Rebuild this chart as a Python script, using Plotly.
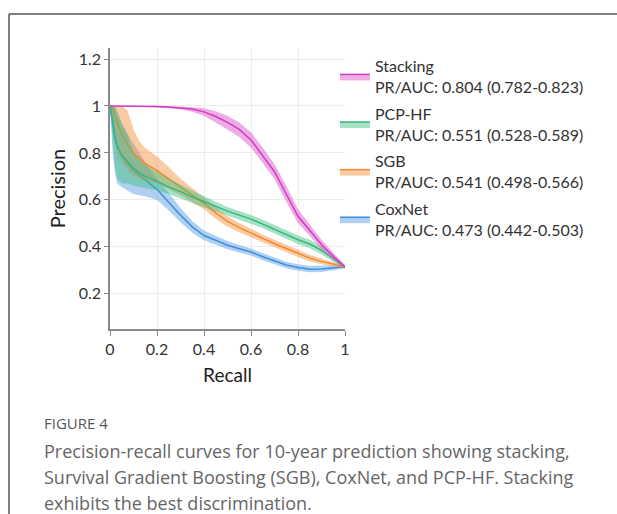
import plotly.graph_objects as go

recall = [0, 0.01, 0.02, 0.03, 0.05, 0.075, 0.1, 0.125, 0.15, 0.2, 0.25, 0.3, 0.35,
          0.4, 0.45, 0.5, 0.55, 0.6, 0.65, 0.7, 0.75, 0.8, 0.85, 0.9, 0.95, 1.0]

stacking_mid = [1.0, 1.0, 1.0, 1.0, 1.0, 1.0, 1.0, 1.0, 0.999, 0.998, 0.996, 0.993, 0.987,
                0.975, 0.955, 0.93, 0.9, 0.855, 0.79, 0.72, 0.625, 0.53, 0.47, 0.41, 0.36, 0.315]
stacking_hi = [1, 1, 1, 1, 1, 1, 1, 1, 1, 1, 1, 0.998, 0.995,
               0.99, 0.978, 0.958, 0.93, 0.888, 0.822, 0.752, 0.66, 0.56, 0.495, 0.43, 0.375, 0.322]
stacking_lo = [1, 1, 1, 1, 1, 0.999, 0.998, 0.997, 0.996, 0.994, 0.99, 0.985, 0.975,
               0.958, 0.93, 0.9, 0.868, 0.822, 0.757, 0.688, 0.592, 0.502, 0.446, 0.39, 0.345, 0.308]

pcphf_mid = [1.0, 0.95, 0.88, 0.83, 0.79, 0.76, 0.735, 0.715, 0.7, 0.68, 0.655, 0.635, 0.612,
             0.593, 0.572, 0.552, 0.535, 0.518, 0.497, 0.475, 0.451, 0.43, 0.412, 0.385, 0.35, 0.315]
pcphf_hi = [1, 1, 1, 0.98, 0.93, 0.88, 0.8, 0.77, 0.75, 0.72, 0.69, 0.665, 0.64,
            0.618, 0.592, 0.57, 0.553, 0.536, 0.515, 0.493, 0.469, 0.448, 0.43, 0.402, 0.365, 0.322]
pcphf_lo = [1, 0.86, 0.75, 0.69, 0.67, 0.67, 0.66, 0.655, 0.65, 0.64, 0.625, 0.605, 0.585,
            0.568, 0.552, 0.534, 0.517, 0.5, 0.479, 0.457, 0.433, 0.412, 0.394, 0.368, 0.336, 0.308]

sgb_mid = [1.0, 0.99, 0.96, 0.93, 0.88, 0.835, 0.8, 0.775, 0.755, 0.725, 0.69, 0.655, 0.62,
           0.585, 0.545, 0.508, 0.482, 0.458, 0.435, 0.413, 0.393, 0.372, 0.352, 0.338, 0.325, 0.315]
sgb_hi = [1, 1, 1, 1, 1, 0.98, 0.9, 0.85, 0.82, 0.785, 0.74, 0.69, 0.65,
          0.612, 0.57, 0.53, 0.502, 0.476, 0.452, 0.43, 0.409, 0.387, 0.366, 0.35, 0.334, 0.322]
sgb_lo = [1, 0.93, 0.86, 0.8, 0.76, 0.73, 0.7, 0.69, 0.68, 0.67, 0.645, 0.62, 0.59,
          0.56, 0.52, 0.486, 0.462, 0.44, 0.418, 0.397, 0.377, 0.357, 0.338, 0.326, 0.316, 0.308]

coxnet_mid = [1.0, 0.93, 0.87, 0.83, 0.79, 0.755, 0.725, 0.705, 0.685, 0.645, 0.59, 0.535, 0.485,
              0.448, 0.428, 0.407, 0.392, 0.378, 0.358, 0.34, 0.323, 0.312, 0.305, 0.306, 0.311, 0.315]
coxnet_hi = [1, 1, 1, 0.97, 0.92, 0.88, 0.84, 0.8, 0.76, 0.69, 0.63, 0.565, 0.51,
             0.47, 0.447, 0.425, 0.408, 0.393, 0.373, 0.355, 0.337, 0.326, 0.319, 0.32, 0.322, 0.322]
coxnet_lo = [1, 0.82, 0.72, 0.67, 0.655, 0.64, 0.625, 0.62, 0.615, 0.6, 0.555, 0.505, 0.46,
             0.428, 0.41, 0.39, 0.376, 0.363, 0.343, 0.325, 0.309, 0.298, 0.292, 0.293, 0.3, 0.308]

model_names = ["CoxNet", "SGB", "PCP-HF", "Stacking"]
model_labels = ["PR/AUC: 0.473 (0.442-0.503)", "PR/AUC: 0.541 (0.498-0.566)",
                "PR/AUC: 0.551 (0.528-0.589)", "PR/AUC: 0.804 (0.782-0.823)"]
legend_ranks = [4, 3, 2, 1]
line_colors = ["#3d8fe0", "#f5892a", "#35b878", "#d23bc4"]
band_colors = ["rgba(80,150,225,0.45)", "rgba(245,140,50,0.45)",
               "rgba(60,190,130,0.45)", "rgba(220,90,205,0.5)"]
mids = [coxnet_mid, sgb_mid, pcphf_mid, stacking_mid]
his = [coxnet_hi, sgb_hi, pcphf_hi, stacking_hi]
los = [coxnet_lo, sgb_lo, pcphf_lo, stacking_lo]

x_ticks = [0, 0.2, 0.4, 0.6, 0.8, 1]
x_tick_text = ["0", "0.2", "0.4", "0.6", "0.8", "1"]
y_ticks = [0.2, 0.4, 0.6, 0.8, 1, 1.2]
y_tick_text = ["0.2", "0.4", "0.6", "0.8", "1", "1.2"]

caption_head = "FIGURE 4"
caption_lines = [
    "Precision-recall curves for 10-year prediction showing stacking,",
    "Survival Gradient Boosting (SGB), CoxNet, and PCP-HF. Stacking",
    "exhibits the best discrimination.",
]

FONT = "Lato"

fig = go.Figure()
for name, lab, rank, lc, bc, mid, hi, lo in zip(model_names, model_labels, legend_ranks,
                                                 line_colors, band_colors, mids, his, los):
    fig.add_trace(go.Scatter(x=recall, y=hi, mode="lines", line=dict(width=0, color=lc),
                             showlegend=False, legendgroup=name, hoverinfo="skip"))
    fig.add_trace(go.Scatter(x=recall, y=mid, mode="lines", fill="tonexty", fillcolor=bc,
                             line=dict(width=1.5, color=lc), name=f"{name}<br>{lab}",
                             legendgroup=name, legendrank=rank))
    fig.add_trace(go.Scatter(x=recall, y=lo, mode="lines", fill="tonexty", fillcolor=bc,
                             line=dict(width=0, color=lc), showlegend=False,
                             legendgroup=name, hoverinfo="skip"))

L, T, W, H = 110, 48, 235, 281  # plot area in pixels

fig.update_layout(
    width=617, height=514,
    margin=dict(l=L, r=617 - L - W, t=T, b=514 - T - H),
    paper_bgcolor="white", plot_bgcolor="white",
    font=dict(family=FONT, size=15, color="#333333"),
    showlegend=True,
    legend=dict(x=0.957, xanchor="left", y=0.996, yanchor="top",
                font=dict(family=FONT, size=16, color="#333333"),
                tracegroupgap=3, bgcolor="rgba(0,0,0,0)", itemwidth=30),
    xaxis=dict(range=[0, 1], tickvals=x_ticks, ticktext=x_tick_text,
               showgrid=True, gridcolor="#ececec", gridwidth=1,
               showline=True, linecolor="#8a8a8a", linewidth=1.5,
               ticks="outside", ticklen=5, tickcolor="#8a8a8a",
               zeroline=False, tickfont=dict(size=16, color="#333333"),
               title=dict(text="Recall", font=dict(size=19, color="#222222"), standoff=12)),
    yaxis=dict(range=[0.05, 1.247], tickvals=y_ticks, ticktext=y_tick_text,
               showgrid=True, gridcolor="#ececec", gridwidth=1,
               showline=True, linecolor="#8a8a8a", linewidth=1.5,
               ticks="outside", ticklen=4, tickcolor="#8a8a8a",
               zeroline=False, tickfont=dict(size=16, color="#333333"),
               title=dict(text="Precision", font=dict(size=20, color="#222222"), standoff=8)),
)


def px_x(p):
    return (p - L) / W


def px_y(p):
    return (T + H - p) / H


# Frame around figure (left and top edges visible)
fig.add_shape(type="line", xref="paper", yref="paper", x0=px_x(9), x1=px_x(9),
              y0=px_y(14), y1=px_y(600), line=dict(color="#555555", width=1.5))
fig.add_shape(type="line", xref="paper", yref="paper", x0=px_x(9), x1=px_x(700),
              y0=px_y(14), y1=px_y(14), line=dict(color="#555555", width=1.5))

fig.add_annotation(text=caption_head, xref="paper", yref="paper",
                   x=px_x(42), y=px_y(423), xanchor="left", yanchor="middle",
                   showarrow=False, font=dict(family="Open Sans", size=15, color="#555555"))
for i, line in enumerate(caption_lines):
    fig.add_annotation(text=line, xref="paper", yref="paper",
                       x=px_x(42), y=px_y(451 + 26 * i), xanchor="left", yanchor="middle",
                       showarrow=False, font=dict(family="Open Sans", size=18, color="#666666"))

fig.write_html("out.html", config={"displayModeBar": False},
               post_script="document.body.style.margin='0';")
